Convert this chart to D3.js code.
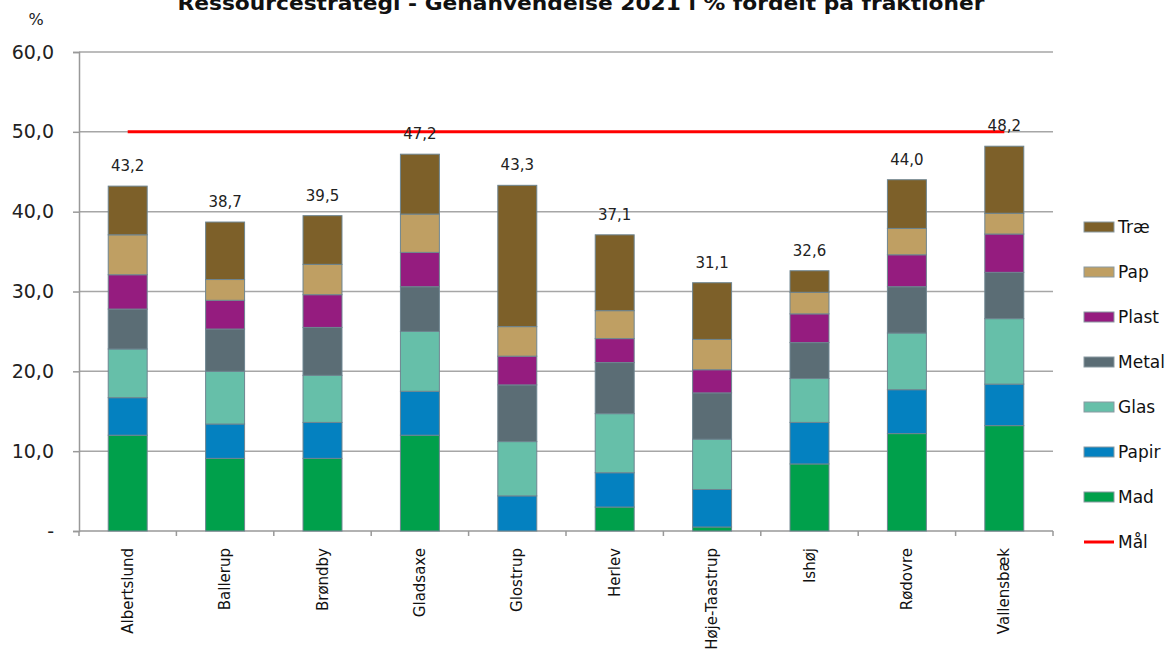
<!DOCTYPE html>
<html>
<head>
<meta charset="utf-8">
<script src="https://cdn.jsdelivr.net/npm/d3@7"></script>
<style>
body{margin:0;background:#fff;}
svg{font-family:"DejaVu Sans",Verdana,sans-serif;}
</style>
</head>
<body>
<svg id="svg" width="1175" height="661"></svg>
<script>
var kommuner=["Albertslund","Ballerup","Brøndby","Gladsaxe","Glostrup","Herlev","Høje-Taastrup","Ishøj","Rødovre","Vallensbæk"];

// fraktioner, nederst til øverst
var mad  =[12.0, 9.1, 9.1,12.0, 0.0, 3.0, 0.5, 8.4,12.2,13.2];
var papir=[ 4.7, 4.3, 4.5, 5.5, 4.4, 4.3, 4.7, 5.2, 5.5, 5.2];
var glas =[ 6.1, 6.6, 5.9, 7.5, 6.8, 7.4, 6.3, 5.5, 7.1, 8.2];
var metal=[ 5.0, 5.3, 6.0, 5.6, 7.1, 6.4, 5.8, 4.5, 5.8, 5.8];
var plast=[ 4.3, 3.6, 4.1, 4.3, 3.6, 3.0, 2.9, 3.6, 4.0, 4.8];
var pap  =[ 5.0, 2.6, 3.8, 4.8, 3.7, 3.5, 3.8, 2.7, 3.3, 2.6];
var trae =[ 6.1, 7.2, 6.1, 7.5,17.7, 9.5, 7.1, 2.7, 6.1, 8.4];

var total=[43.2,38.7,39.5,47.2,43.3,37.1,31.1,32.6,44.0,48.2];
var maal =[50,50,50,50,50,50,50,50,50,50];

var yticks=[0,10,20,30,40,50,60];

var keys=["Mad","Papir","Glas","Metal","Plast","Pap","Træ"];
var series={"Mad":mad,"Papir":papir,"Glas":glas,"Metal":metal,"Plast":plast,"Pap":pap,"Træ":trae};
var colors={"Mad":"#00a04b","Papir":"#0481c0","Glas":"#66bfa9","Metal":"#5b6d75","Plast":"#951c7f","Pap":"#bf9f63","Træ":"#7d6029"};

var rows=kommuner.map(function(k,i){
	var r={kommune:k};
	keys.forEach(function(f){r[f]=series[f][i];});
	return r;
});

var svg=d3.select("#svg");
var plot={left:79,right:1053,top:52,bottom:531};

var yscale=d3.scaleLinear().domain([0,60]).range([plot.bottom,plot.top]);
var xscale=d3.scaleBand().domain(kommuner).range([plot.left,plot.right])
	.paddingInner(0.6).paddingOuter(0.3);
var step=xscale.step();

// title (top is clipped in the original too)
svg.append("text")
	.attr("x",581).attr("y",10)
	.attr("text-anchor","middle")
	.attr("font-size","19px").attr("font-weight","bold")
	.attr("textLength",807).attr("lengthAdjust","spacingAndGlyphs")
	.attr("fill","#111")
	.text("Ressourcestrategi - Genanvendelse 2021 i % fordelt på fraktioner");

svg.append("text").attr("x",36).attr("y",25).attr("text-anchor","middle")
	.attr("font-size","16px").attr("fill","#222").text("%");

// grid
svg.append("g").selectAll("line").data(yticks.filter(function(d){return d>0;})).enter()
	.append("line")
	.attr("x1",plot.left).attr("x2",plot.right)
	.attr("y1",function(d){return yscale(d);})
	.attr("y2",function(d){return yscale(d);})
	.attr("stroke","#a6a6a6").attr("stroke-width",1.5);

// y axis
var yaxis=svg.append("g").attr("transform","translate("+plot.left+",0)")
	.call(d3.axisLeft(yscale).tickValues(yticks).tickSize(6).tickPadding(19)
		.tickFormat(function(d){return d===0?"-":d3.format(".1f")(d).replace(".",",");}));
yaxis.selectAll("text").attr("font-size","19px").attr("fill","#222").attr("font-family","DejaVu Sans");
yaxis.selectAll("line,path").attr("stroke","#999").attr("stroke-width",1.5);

// x axis line + ticks at category borders
svg.append("line").attr("x1",plot.left).attr("x2",plot.right).attr("y1",plot.bottom).attr("y2",plot.bottom)
	.attr("stroke","#999").attr("stroke-width",1.5);
svg.append("g").selectAll("line").data(d3.range(kommuner.length+1)).enter()
	.append("line")
	.attr("x1",function(i){return plot.left+i*step;})
	.attr("x2",function(i){return plot.left+i*step;})
	.attr("y1",plot.bottom).attr("y2",plot.bottom+5)
	.attr("stroke","#999").attr("stroke-width",1.5);

svg.append("g").selectAll("text").data(kommuner).enter()
	.append("text")
	.attr("transform",function(d){return "translate("+(xscale(d)+xscale.bandwidth()/2+5)+",548) rotate(-90)";})
	.attr("text-anchor","end")
	.attr("font-size","15px").attr("fill","#111")
	.text(function(d){return d;});

// bars
var stack=d3.stack().keys(keys)(rows);
var layers=svg.append("g").selectAll("g").data(stack).enter()
	.append("g").attr("fill",function(d){return colors[d.key];});
layers.selectAll("rect").data(function(d){return d;}).enter()
	.append("rect")
	.attr("x",function(d){return xscale(d.data.kommune);})
	.attr("width",xscale.bandwidth())
	.attr("y",function(d){return yscale(d[1]);})
	.attr("height",function(d){return yscale(d[0])-yscale(d[1]);})
	.attr("stroke","#6e8590").attr("stroke-width",1);

// Mål line
var line=d3.line()
	.x(function(d,i){return xscale(kommuner[i])+xscale.bandwidth()/2;})
	.y(function(d){return yscale(d);});
svg.append("path").datum(maal).attr("d",line)
	.attr("fill","none").attr("stroke","#ff0000").attr("stroke-width",3);

// totals
svg.append("g").selectAll("text").data(total).enter()
	.append("text")
	.attr("x",function(d,i){return xscale(kommuner[i])+xscale.bandwidth()/2;})
	.attr("y",function(d){return yscale(d)-15;})
	.attr("text-anchor","middle")
	.attr("font-size","15px").attr("fill","#222")
	.text(function(d){return d3.format(".1f")(d).replace(".",",");});

// legend
var legendItems=keys.slice().reverse();
var lg=svg.append("g");
legendItems.forEach(function(k,i){
	var y=227+i*45;
	lg.append("rect").attr("x",1084).attr("y",y-5).attr("width",30).attr("height",10)
		.attr("fill",colors[k]).attr("stroke","#8a9aa2").attr("stroke-width",1);
	lg.append("text").attr("x",1118).attr("y",y+6).attr("font-size","17px").attr("fill","#111").text(k);
});
var my=227+7*45;
lg.append("line").attr("x1",1084).attr("x2",1114).attr("y1",my).attr("y2",my)
	.attr("stroke","#ff0000").attr("stroke-width",3);
lg.append("text").attr("x",1118).attr("y",my+6).attr("font-size","17px").attr("fill","#111").text("Mål");
</script>
</body>
</html>
